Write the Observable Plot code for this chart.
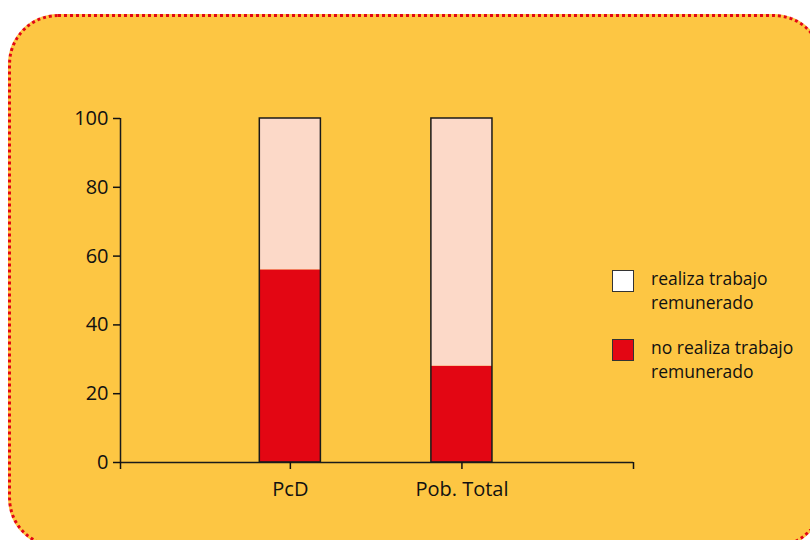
<!DOCTYPE html>
<html>
<head>
<meta charset="utf-8">
<script src="https://cdn.jsdelivr.net/npm/d3@7"></script>
<script src="https://cdn.jsdelivr.net/npm/@observablehq/plot@0.6"></script>
<style>
  html, body { margin: 0; padding: 0; background: #ffffff; }
  body { width: 810px; height: 540px; position: relative; overflow: hidden; font-family: "Open Sans", sans-serif; }
  #panel {
    position: absolute; left: 8px; top: 14px; width: 816px; height: 534px;
    box-sizing: border-box; background: #FDC643;
    border: 3px dotted #E30613; border-radius: 50px;
  }
  #chart { position: absolute; left: 0; top: 0; }
  #legend { position: absolute; left: 612px; top: 266px; color: #111; font-size: 17.5px; line-height: 24px; font-weight: 500; }
  .item { position: relative; padding-left: 39px; margin-bottom: 21px; }
  .swatch { position: absolute; left: 0; top: 4px; width: 20px; height: 20px; border: 1.5px solid #333; }
  #chart svg text { font-weight: 500; }
</style>
</head>
<body>
<div id="panel"></div>
<div id="chart"></div>
<div id="legend"></div>
<script>
const categories = ["PcD", "Pob. Total"];
const series = ["no realiza trabajo remunerado", "realiza trabajo remunerado"];
const noRealiza = [56, 28];
const realiza = [44, 72];
const yTicks = [0, 20, 40, 60, 80, 100];

const colors = { "no realiza trabajo remunerado": "#E30613", "realiza trabajo remunerado": "#FCD9C8" };
const half = 0.178;

const rows = [];
categories.forEach((c, i) => {
  rows.push({ cat: c, pos: i + 1, serie: series[0], value: noRealiza[i] });
  rows.push({ cat: c, pos: i + 1, serie: series[1], value: realiza[i] });
});
const totals = categories.map((c, i) => ({ cat: c, pos: i + 1, total: noRealiza[i] + realiza[i] }));

const chart = Plot.plot({
  width: 810,
  height: 540,
  marginLeft: 120,
  marginRight: 177,
  marginTop: 118,
  marginBottom: 78,
  style: { background: "transparent", fontFamily: "Open Sans, sans-serif", color: "#111" },
  x: { domain: [0.01, 3] },
  y: { domain: [0, 100] },
  color: { domain: series, range: series.map(s => colors[s]) },
  marks: [
    Plot.rectY(rows, { x1: d => d.pos - half, x2: d => d.pos + half, y: "value", fill: "serie" }),
    Plot.rectY(totals, { x1: d => d.pos - half, x2: d => d.pos + half, y1: 0, y2: "total", fill: "none", stroke: "#1a1a1a", strokeWidth: 1.5 }),
    Plot.ruleX([0.01], { stroke: "#1a1a1a", strokeWidth: 1.5 }),
    Plot.ruleY([0], { stroke: "#1a1a1a", strokeWidth: 1.5 }),
    Plot.axisY({ ticks: yTicks, tickSize: 7, tickPadding: 5, fontSize: 20, label: null, strokeWidth: 1.5 }),
    Plot.axisX({ ticks: [0.01, 1, 2, 3], tickSize: 7, tickPadding: 12, fontSize: 20, label: null, strokeWidth: 1.5,
      tickFormat: d => categories[Math.round(d) - 1] ?? "" })
  ]
});
document.getElementById("chart").appendChild(chart);

const legendItems = [series[1], series[0]];
const legendLines = { "realiza trabajo remunerado": ["realiza trabajo", "remunerado"],
  "no realiza trabajo remunerado": ["no realiza trabajo", "remunerado"] };
const legend = document.getElementById("legend");
legendItems.forEach(s => {
  const it = document.createElement("div");
  it.className = "item";
  const sw = document.createElement("div");
  sw.className = "swatch";
  sw.style.background = s === series[1] ? "#ffffff" : colors[s];
  it.appendChild(sw);
  legendLines[s].forEach(l => { const d = document.createElement("div"); d.textContent = l; it.appendChild(d); });
  legend.appendChild(it);
});
</script>
</body>
</html>
